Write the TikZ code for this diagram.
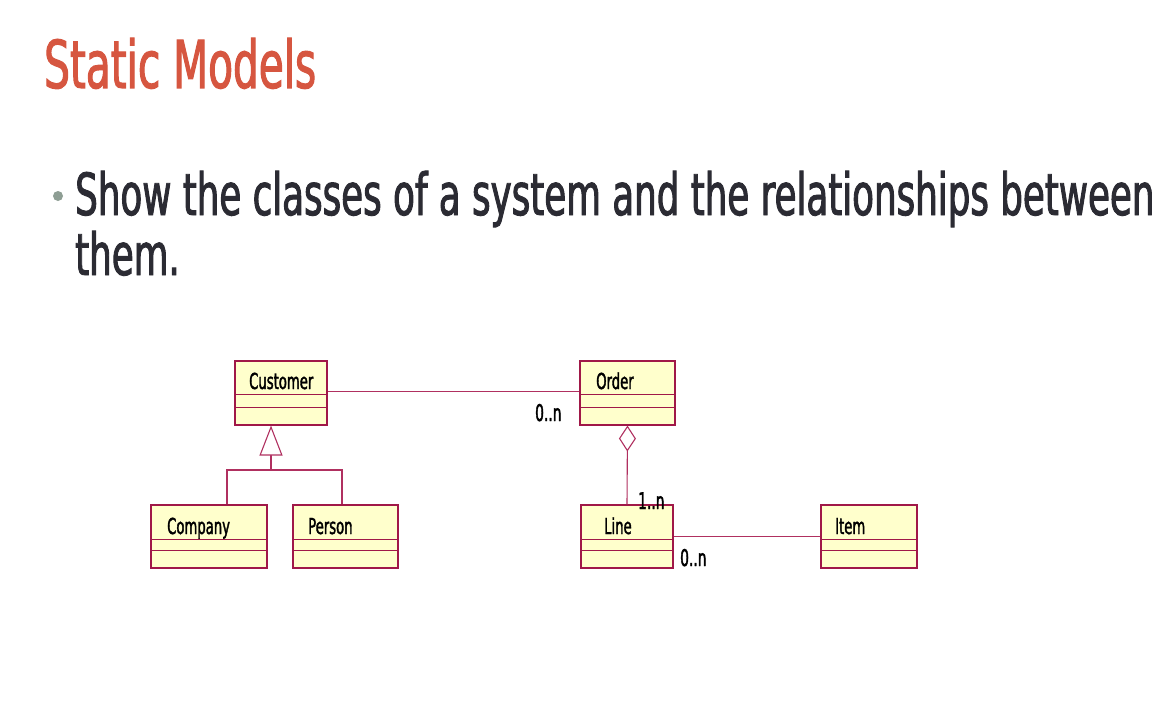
\documentclass[tikz,border=0pt]{standalone}
\usepackage{fontspec}
\setmainfont{DejaVu Sans}[FakeStretch=0.615,FakeBold=1.6]
\newfontfamily\boxfont{DejaVu Sans}[FakeStretch=0.6,FakeBold=1.6]
\usetikzlibrary{arrows.meta,calc}
\definecolor{titlered}{HTML}{D65640}
\definecolor{bodyink}{HTML}{2B2B33}
\definecolor{bulletgray}{HTML}{8E9E94}
\definecolor{umlborder}{HTML}{A01848}
\definecolor{umlline}{HTML}{B03060}
\definecolor{umlfill}{HTML}{FFFFCC}
\tikzset{
  classbox/.style={draw=umlborder, fill=umlfill, line width=1.1pt, inner sep=0pt},
  classname/.style={anchor=base west, inner sep=0pt, font=\boxfont\fontsize{22}{22}\selectfont, text=black},
  mult/.style={anchor=base west, inner sep=0pt, font=\boxfont\fontsize{23}{23}\selectfont, text=black},
  assoc/.style={draw=umlline, line width=1.1pt},
  divider/.style={draw=umlborder, line width=1.1pt},
}
\begin{document}
\begin{tikzpicture}[x=1pt,y=-1pt]
\useasboundingbox (0,0) rectangle (1174,706);

% slide title and bullet text
\node[anchor=base west, inner sep=0pt, text=titlered, font=\fontsize{66}{66}\selectfont] (title) at (44,88) {Static Models};
\fill[bulletgray] (58,196) circle (5);
\node[anchor=base west, inner sep=0pt, text=bodyink, font=\fontsize{58}{58}\selectfont] (line1) at (75,215) {Show the classes of a system and the relationships between};
\node[anchor=base west, inner sep=0pt, text=bodyink, font=\fontsize{58}{58}\selectfont] (line2) at (75,275) {them.};

% class boxes
\node[classbox, minimum width=92, minimum height=64] (cust) at (281,393) {};
\node[classbox, minimum width=95, minimum height=64] (order) at (627.5,393) {};
\node[classbox, minimum width=116, minimum height=63] (comp) at (209,536.5) {};
\node[classbox, minimum width=105, minimum height=63] (pers) at (345.5,536.5) {};
\node[classbox, minimum width=92, minimum height=63] (line) at (627,536.5) {};
\node[classbox, minimum width=96, minimum height=63] (item) at (869,536.5) {};

% compartment dividers
\foreach \c/\a/\b in {cust/34/47, order/34/47, comp/35/46, pers/35/46, line/35/46, item/35/46} {
  \draw[divider] ([yshift=-\a pt]\c.north west) -- ([yshift=-\a pt]\c.north east);
  \draw[divider] ([yshift=-\b pt]\c.north west) -- ([yshift=-\b pt]\c.north east);
}

% class names
\node[classname] (custname) at (249,389) {Customer};
\node[classname] (ordername) at (596,389) {Order};
\node[classname] (compname) at (167,534) {Company};
\node[classname] (persname) at (308,534) {Person};
\node[classname] (linename) at (604,534) {Line};
\node[classname] (itemname) at (835,534) {Item};

% association Customer -- Order
\draw[assoc] ([yshift=-31pt]cust.north east) -- ([yshift=-31pt]order.north west);
\node[mult] (m1) at (535,421) {0..n};

% generalisation Company, Person --> Customer
\coordinate (gen) at (271,470);
\draw[assoc] ([xshift=18pt]comp.north) |- (gen) -| ([xshift=-3.5pt]pers.north);
\draw[assoc, -{Triangle[open, length=30pt, width=23pt, fill=white]}] (gen) -- (gen |- cust.south);

% aggregation Line --<> Order
\draw[assoc, -{Diamond[open, length=26pt, width=17pt, fill=white]}] (line.north) -- (order.south);
\node[mult] (m2) at (638,509) {1..n};

% association Line -- Item
\draw[assoc] ([yshift=-32pt]line.north east) -- ([yshift=-32pt]item.north west);
\node[mult] (m3) at (680,566) {0..n};
\end{tikzpicture}
\end{document}
